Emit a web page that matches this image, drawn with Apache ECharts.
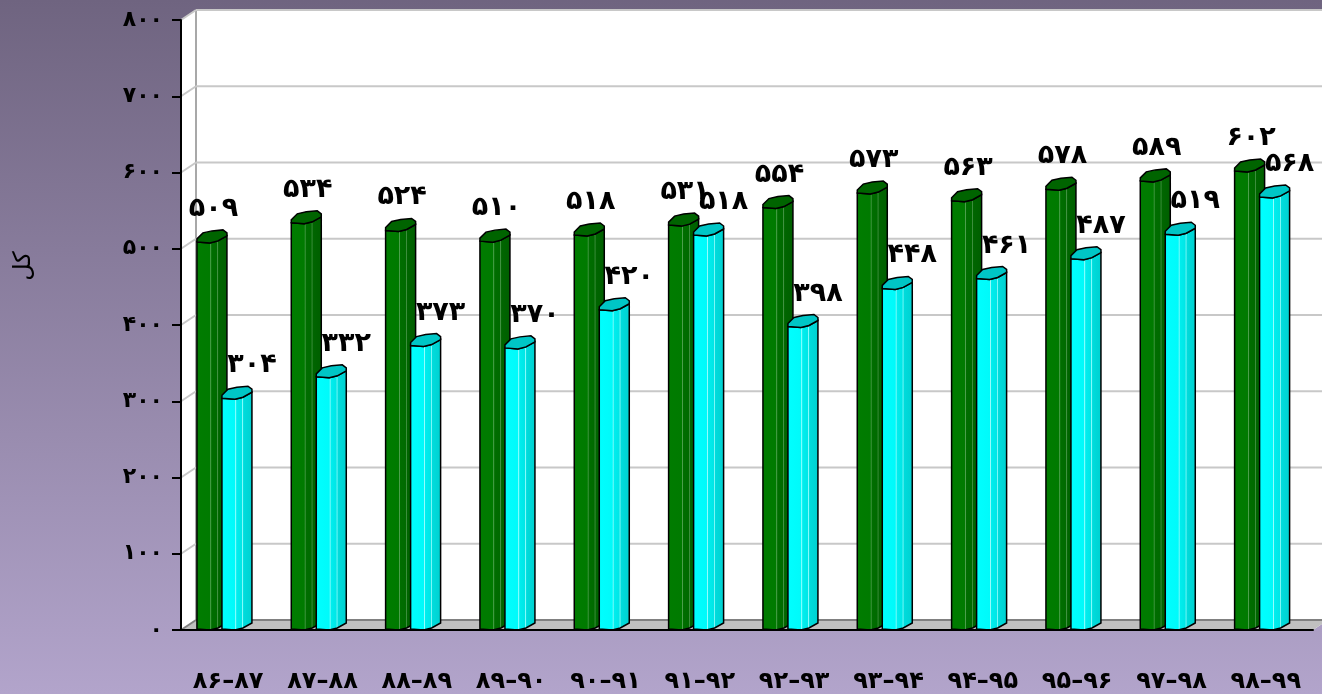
<!DOCTYPE html>
<html>
<head>
<meta charset="utf-8">
<script src="https://cdn.jsdelivr.net/npm/echarts@6/dist/echarts.min.js"></script>
<style>
  html, body { margin: 0; padding: 0; }
  #chart { width: 1322px; height: 694px; }
</style>
</head>
<body>
<div id="chart"></div>
<script>
// data
const categories = ['۸۶–۸۷', '۸۷–۸۸', '۸۸–۸۹', '۸۹–۹۰', '۹۰–۹۱', '۹۱–۹۲', '۹۲–۹۳', '۹۳–۹۴', '۹۴–۹۵', '۹۵–۹۶', '۹۷–۹۸', '۹۸–۹۹']
const greenValues = [509, 534, 524, 510, 518, 531, 554, 573, 563, 578, 589, 602]
const cyanValues = [304, 332, 373, 370, 420, 518, 398, 448, 461, 487, 519, 568]
const yTicks = [0, 100, 200, 300, 400, 500, 600, 700, 800]
const yName = 'کل'

const FA = '۰۱۲۳۴۵۶۷۸۹'
const toFa = (n) => String(n).replace(/[0-9]/g, (d) => FA[d])

// depth of the fake 3d walls
const DX = 15
const DY = -10
const FONT = '"DejaVu Sans", sans-serif'

const barStyles = {
  green: {
    body: [
      [0, '#007c00'], [0.44, '#007a00'], [0.46, '#5aa85a'], [0.49, '#006e00'],
      [0.66, '#006a00'], [0.68, '#4f9a4f'], [0.71, '#006600'], [1, '#005e00']
    ],
    cap: '#006400',
    offset: -0.331,
    labelDx: 0.55
  },
  cyan: {
    body: [
      [0, '#00ffff'], [0.44, '#00fafa'], [0.46, '#b0ffff'], [0.49, '#00eeee'],
      [0.66, '#00e6e6'], [0.68, '#a0ffff'], [0.71, '#00dcdc'], [1, '#00d0d0']
    ],
    cap: '#00c6c6',
    offset: -0.066,
    labelDx: 1
  }
}

// cap outline for a 30px wide bar, relative to front-left top corner
const capShape = [[0, 0], [13, 1], [21, -1], [30, -6], [30, -9], [26, -12], [15, -11], [6, -9], [0, -3]]

const makeBarRender = (st) => (params, api) => {
  const idx = api.value(0)
  const val = api.value(1)
  const top = api.coord([idx, val])
  const base = api.coord([idx, 0])
  const band = api.size([1, 0])[0]
  const w = band * 0.318
  const k = w / 30
  const x0 = top[0] + band * st.offset
  const t = top[1]
  const b = base[1] - 1
  const px = (p, y) => [x0 + p[0] * k, y + p[1]]
  const front = [[0, 0], [13, 1], [21, -1], [30, -6]]
  const pts = [[x0, t], [x0, b]]
  front.slice(1).forEach((p) => pts.push(px(p, b)))
  front.slice().reverse().slice(0, 3).forEach((p) => pts.push(px(p, t)))
  return {
    type: 'group',
    children: [
      {
        type: 'polygon',
        shape: { points: pts },
        style: {
          fill: { type: 'linear', x: 0, y: 0, x2: 1, y2: 0, colorStops: st.body.map((s) => ({ offset: s[0], color: s[1] })) },
          stroke: '#000',
          lineWidth: 1.5
        }
      },
      {
        type: 'polygon',
        shape: { points: capShape.map((p) => px(p, t)) },
        style: { fill: st.cap, stroke: '#000', lineWidth: 1.5 }
      },
      {
        type: 'text',
        z2: 10,
        style: {
          text: toFa(val),
          x: x0 + w * st.labelDx,
          y: t - 33,
          align: 'center',
          verticalAlign: 'middle',
          font: 'bold 27px ' + FONT,
          fill: '#000'
        }
      }
    ]
  }
}

// walls and floor
const renderWall = (params, api) => {
  const cs = params.coordSys
  const L = cs.x, T = cs.y, R = cs.x + cs.width, B = cs.y + cs.height
  return {
    type: 'group',
    children: [
      {
        type: 'polygon',
        shape: { points: [[L, T], [L + DX, T + DY], [R + DX, T + DY], [R + DX, B + DY], [R, B], [L, B]] },
        style: { fill: '#ffffff' }
      },
      {
        type: 'polygon',
        shape: { points: [[L, B], [L + DX, B + DY], [R + DX, B + DY], [R, B]] },
        style: { fill: '#c0c0c0' }
      },
      {
        type: 'line',
        shape: { x1: L + DX, y1: T + DY, x2: L + DX, y2: B + DY },
        style: { stroke: '#a8a8a8', lineWidth: 2 }
      }
    ]
  }
}

const renderGridLine = (params, api) => {
  const cs = params.coordSys
  const v = api.value(1)
  const y = api.coord([0, v])[1]
  const L = cs.x, R = cs.x + cs.width
  const col = v === 0 ? '#808080' : '#c8c8c8'
  return {
    type: 'group',
    children: [
      { type: 'line', shape: { x1: L, y1: y, x2: L + DX, y2: y + DY }, style: { stroke: col, lineWidth: 2 } },
      { type: 'line', shape: { x1: L + DX, y1: y + DY, x2: R + DX, y2: y + DY }, style: { stroke: col, lineWidth: 2 } }
    ]
  }
}

const chart = echarts.init(document.getElementById('chart'))
chart.setOption({
  backgroundColor: {
    type: 'linear', x: 0, y: 0, x2: 0, y2: 1,
    colorStops: [{ offset: 0, color: '#6f6480' }, { offset: 1, color: '#b2a4cb' }]
  },
  animation: false,
  grid: { left: 181, right: 9, top: 20, bottom: 62 },
  graphic: [
    {
      type: 'text',
      x: 24,
      y: 266,
      rotation: Math.PI / 2,
      style: {
        text: yName,
        font: '24px ' + FONT,
        fill: '#000',
        align: 'center',
        verticalAlign: 'middle'
      }
    }
  ],
  xAxis: {
    type: 'category',
    data: categories,
    z: 10,
    axisLine: { lineStyle: { color: '#000', width: 2 } },
    axisTick: { length: 8, lineStyle: { color: '#000', width: 2 } },
    axisLabel: { interval: 0, hideOverlap: false, margin: 40, color: '#000', fontWeight: 'bold', fontSize: 24, fontFamily: FONT }
  },
  yAxis: {
    type: 'value',
    min: 0,
    max: 800,
    interval: 100,
    z: 10,
    axisLine: { show: true, lineStyle: { color: '#000', width: 2 } },
    axisTick: { show: true, length: 9, lineStyle: { color: '#000', width: 2 } },
    axisLabel: { margin: 18, color: '#000', fontWeight: 'bold', fontSize: 22, fontFamily: FONT, formatter: (v) => toFa(v) },
    splitLine: { show: false }
  },
  series: [
    { type: 'custom', z: 1, silent: true, data: [[0, 0]], renderItem: renderWall },
    { type: 'custom', z: 2, silent: true, data: yTicks.map((v) => [0, v]), renderItem: renderGridLine },
    { type: 'custom', z: 3, data: greenValues.map((v, i) => [i, v]), encode: { x: 0, y: 1 }, renderItem: makeBarRender(barStyles.green) },
    { type: 'custom', z: 4, data: cyanValues.map((v, i) => [i, v]), encode: { x: 0, y: 1 }, renderItem: makeBarRender(barStyles.cyan) }
  ]
})
</script>
</body>
</html>
